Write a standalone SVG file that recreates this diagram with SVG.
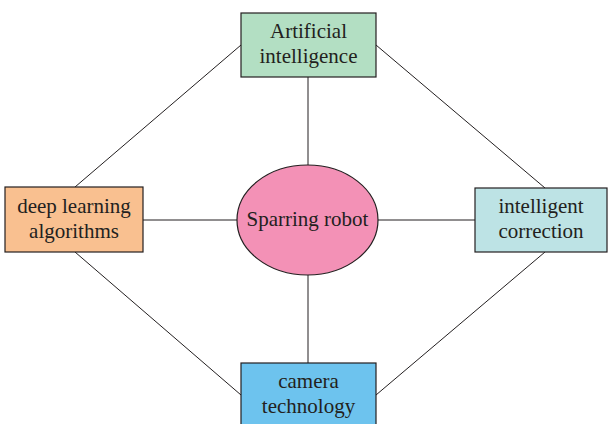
<svg xmlns="http://www.w3.org/2000/svg" width="608" height="424" viewBox="0 0 608 424">
  <style>
    .box { stroke: #231f20; stroke-width: 1.2; }
    .lbl { font-family: "Liberation Serif", "DejaVu Serif", serif; font-size: 21px; fill: #231f20; text-anchor: middle; }
    .edge { stroke: #231f20; stroke-width: 1; fill: none; }
  </style>
  <rect width="608" height="424" fill="#ffffff"/>
  <g id="connectors">
    <line class="edge" x1="308" y1="77" x2="308" y2="165"/>
    <line class="edge" x1="308" y1="275" x2="308" y2="363"/>
    <line class="edge" x1="143" y1="220" x2="237" y2="220"/>
    <line class="edge" x1="378" y1="220" x2="475" y2="220"/>
    <line class="edge" x1="241" y1="45" x2="75" y2="187"/>
    <line class="edge" x1="376" y1="45" x2="545" y2="188"/>
    <line class="edge" x1="75" y1="252" x2="241" y2="395"/>
    <line class="edge" x1="545" y1="252" x2="376" y2="395"/>
  </g>
  <g id="artificial-intelligence">
    <rect class="box" x="241" y="13" width="135" height="64" fill="#b3dfc3"/>
    <text class="lbl" x="308.5" y="38">Artificial</text>
    <text class="lbl" x="308.5" y="63">intelligence</text>
  </g>
  <g id="deep-learning">
    <rect class="box" x="5" y="187" width="138" height="65" fill="#f9c090"/>
    <text class="lbl" x="74" y="213">deep learning</text>
    <text class="lbl" x="74" y="238">algorithms</text>
  </g>
  <g id="intelligent-correction">
    <rect class="box" x="475" y="188" width="132" height="64" fill="#bde3e5"/>
    <text class="lbl" x="541" y="213">intelligent</text>
    <text class="lbl" x="541" y="238">correction</text>
  </g>
  <g id="camera-technology">
    <rect class="box" x="241" y="363" width="135" height="64" fill="#6dc3ee"/>
    <text class="lbl" x="308.5" y="388">camera</text>
    <text class="lbl" x="308.5" y="413">technology</text>
  </g>
  <g id="sparring-robot">
    <ellipse class="box" cx="307.5" cy="220" rx="70.5" ry="55" fill="#f391b6"/>
    <text class="lbl" x="307.5" y="226">Sparring robot</text>
  </g>
</svg>
